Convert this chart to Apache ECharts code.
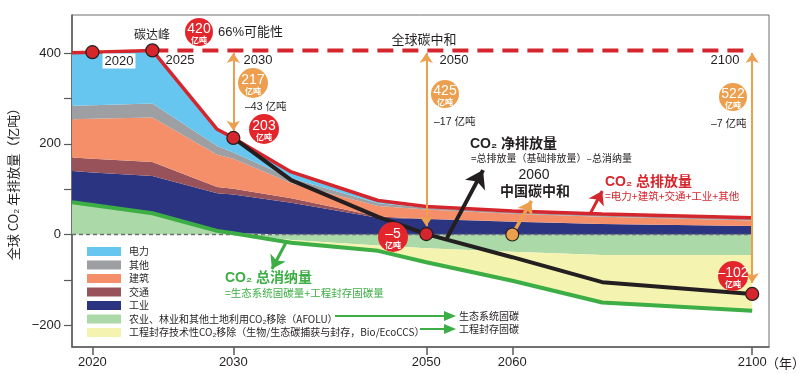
<!DOCTYPE html>
<html><head><meta charset="utf-8">
<script src="https://cdn.jsdelivr.net/npm/echarts@6/dist/echarts.min.js"></script>
<style>html,body{margin:0;padding:0;background:#fff}#c{width:806px;height:374px}</style>
</head><body><div id="c"></div>
<script>
// ---------------- data ----------------
const years       = [2018.3, 2020, 2025, 2029, 2030, 2036, 2045, 2050, 2060, 2075, 2100];
const industry    = [69, 72, 82, 83, 85, 70, 37, 34, 28, 23, 19];
const transport   = [30, 30, 31, 14, 13, 10, 3, 1, 0.5, 0, 0];
const building    = [84, 88, 98, 71, 66, 33, 23, 20, 17.5, 16, 12];
const other       = [30, 30, 31, 19, 14, 11, 6, 4, 3, 4, 4];
const electricity = [117, 117, 117, 37, 32, 14, 6, 3, 3, 2, 2];
const afolu       = [71, 65, 47, 8, 3, -12, -24, -30, -38, -45, -45];
const engineered  = [0, 0, 0, 0, 0, -6, -12, -31, -64, -105, -123];
const netStartYear = 2030;
const peakYear = 2025;
const totalMarkYears = [2020, 2025, 2030];
const netMarkYears = [2050, 2100];
const chinaNeutralYear = 2060;
const xTickYears = [2020, 2030, 2050, 2060, 2100];
const yTickValues = [-200, -100, 0, 100, 200, 300, 400];
const yLabelValues = [-200, 0, 200, 400];
const legendNames = ['电力', '其他', '建筑', '交通', '工业',
  '农业、林业和其他土地利用CO₂移除（AFOLU）',
  '工程封存技术性CO₂移除（生物/生态碳捕获与封存，Bio/EcoCCS）'];

// ------------- non-uniform time scale of the original figure -------------
const scaleYears = [2020, 2025, 2030, 2050, 2060, 2100];
const scaleUnits = [0, 60, 141, 334, 420, 660];
function seg(arrA, v) { let i = 0; while (i < arrA.length - 2 && v > arrA[i + 1]) i++; return i; }
function toU(yr) { const i = seg(scaleYears, yr); return scaleUnits[i] + (yr - scaleYears[i]) * (scaleUnits[i + 1] - scaleUnits[i]) / (scaleYears[i + 1] - scaleYears[i]); }
function fromU(u) { const i = seg(scaleUnits, u); return scaleYears[i] + (u - scaleUnits[i]) * (scaleYears[i + 1] - scaleYears[i]) / (scaleUnits[i + 1] - scaleUnits[i]); }

// ------------- derived (stacking) -------------
const zero = years.map(() => 0);
const posBase = afolu.map(v => Math.max(v, 0));
const negBase = afolu.map(v => Math.min(v, 0));
function addArr(a, b) { return a.map((v, i) => v + b[i]); }
const topIndustry = addArr(posBase, industry);
const topTransport = addArr(topIndustry, transport);
const topBuilding = addArr(topTransport, building);
const topOther = addArr(topBuilding, other);
const total = addArr(topOther, electricity);
const engBottom = addArr(negBase, engineered);
const sink = addArr(afolu, engineered);
const net = years.map((y, i) => y >= netStartYear ? total[i] - posBase[i] + sink[i] : null);
const idx = y => years.indexOf(y);

const RED = '#d6262d', GREEN = '#3dae45', ORANGE = '#eca04f', BLACK = '#231f20';
const FONT = '"Liberation Sans", "Noto Sans CJK SC", sans-serif';
const CJK = '"Noto Sans CJK SC", "Liberation Sans", sans-serif';
const colors = {
  '电力': '#67c6ef', '其他': '#9e9fa2', '建筑': '#f48f6a', '交通': '#98525a', '工业': '#2a3481',
  [legendNames[5]]: '#abd9a7', [legendNames[6]]: '#f5f3b0'
};

function band(name, upper, lower) {
  return {
    name, type: 'custom', silent: true, z: 1, itemStyle: { color: colors[name] },
    data: years.map((y, i) => [toU(y), upper[i], lower[i]]),
    encode: { x: 0, y: [1, 2] },
    renderItem: (params, api) => {
      if (params.dataIndex !== 0) return null;
      const top = years.map((y, i) => api.coord([toU(y), upper[i]]));
      const bot = years.map((y, i) => api.coord([toU(y), lower[i]])).reverse();
      return { type: 'polygon', shape: { points: top.concat(bot) }, style: { fill: colors[name], stroke: null } };
    }
  };
}
const pts = (arr) => years.map((y, i) => arr[i] === null ? null : [toU(y), arr[i]]).filter(p => p);

// annotation arrows in data space (year, value)
const vArrows = [[2030, 400, 229], [2050, 400, 18], [2100, 400, -107]];
const diagArrows = [
  { from: [2052.4, -8], to: [2056.6, 142], color: BLACK, width: 4, size: 17 },
  { from: [2060, 0], to: [2063.2, 74], color: ORANGE, width: 3.5, size: 13 },
  { from: [2073, 46], to: [2075, 96], color: RED, width: 3, size: 13 },
  { from: [2035.5, -16], to: [2034, -76], color: GREEN, width: 3, size: 13 }
];

function bubble(x, y, r, color, num) {
  return { type: 'group', x, y, z: 20, children: [
    { type: 'circle', z: 20, shape: { cx: 0, cy: 0, r }, style: { fill: color } },
    { type: 'text', z: 21, x: 0, y: -3, style: { text: num, fill: '#fff', font: '14px ' + FONT, align: 'center', verticalAlign: 'middle' } },
    { type: 'text', z: 21, x: 0, y: 8, style: { text: '亿吨', fill: '#fff', font: 'bold 8px ' + CJK, align: 'center', verticalAlign: 'middle' } }
  ]};
}
function txt(x, y, text, font, fill, align, extra) {
  return { type: 'text', x, y, z: 20, style: Object.assign({ text, font, fill: fill || BLACK, align: align || 'left', verticalAlign: 'middle' }, extra || {}) };
}
function legArrow(x1, x2, y) {
  return [
    { type: 'line', z: 20, shape: { x1, y1: y, x2: x2 - 8, y2: y }, style: { stroke: GREEN, lineWidth: 2 } },
    { type: 'polygon', z: 20, shape: { points: [[x2 - 12, y - 5], [x2, y], [x2 - 12, y + 5]] }, style: { fill: GREEN } }
  ];
}

const option = {
  animation: false,
  backgroundColor: '#fff',
  grid: { left: 72, right: 37, top: 15, bottom: 27, show: true, borderColor: '#6d6e71', borderWidth: 1, outerBoundsMode: 'none' },
  xAxis: {
    type: 'value', min: toU(2018.3), max: toU(2102.8),
    splitLine: { show: false },
    axisLine: { onZero: false, lineStyle: { color: '#58595b', width: 1.5 } },
    axisTick: { show: true, length: 8, inside: false, customValues: xTickYears.map(toU), lineStyle: { color: '#58595b', width: 1.5 } },
    axisLabel: { customValues: xTickYears.map(toU), formatter: v => String(Math.round(fromU(v))), fontSize: 13, color: BLACK, fontFamily: FONT, margin: 9 }
  },
  yAxis: {
    type: 'value', min: -248, max: 484,
    name: '全球 CO₂ 年排放量（亿吨）', nameLocation: 'middle', nameRotate: 90, nameGap: 52,
    nameTextStyle: { fontSize: 13, color: BLACK, fontFamily: CJK },
    splitLine: { show: false },
    axisLine: { show: true, onZero: false, lineStyle: { color: '#58595b', width: 1.5 } },
    axisTick: { show: true, length: 8, customValues: yTickValues, lineStyle: { color: '#58595b', width: 1.2 } },
    axisLabel: { customValues: yLabelValues, formatter: v => v < 0 ? '−' + Math.abs(v) : String(v), fontSize: 13, color: BLACK, fontFamily: FONT, margin: 11 }
  },
  legend: {
    left: 82, top: 241, orient: 'vertical', itemWidth: 34, itemHeight: 9, itemGap: 2.5,
    icon: 'rect', selectedMode: false,
    textStyle: { fontSize: 10, color: BLACK, fontFamily: CJK, lineHeight: 11, padding: [0, 0, 0, 3] },
    itemStyle: { borderWidth: 0 },
    data: legendNames.map(n => ({ name: n, icon: 'rect', itemStyle: { color: colors[n], borderWidth: 0 } }))
  },
  series: [
    band(legendNames[5], afolu, zero),
    band('工业', topIndustry, posBase),
    band('交通', topTransport, topIndustry),
    band('建筑', topBuilding, topTransport),
    band('其他', topOther, topBuilding),
    band('电力', total, topOther),
    band(legendNames[6], negBase, engBottom),
    { type: 'line', silent: true, symbol: 'none', z: 3, data: [[toU(2018.3), 0], [toU(2100), 0]],
      lineStyle: { color: '#6d6e71', width: 1.3, type: [4, 3] } },
    { type: 'line', silent: true, symbol: 'none', z: 4, data: [[toU(peakYear), total[idx(peakYear)]], [toU(2100), total[idx(peakYear)]]],
      lineStyle: { color: RED, width: 4, type: [16, 9] } },
    { type: 'line', silent: true, symbol: 'none', z: 4, data: pts(total), lineStyle: { color: RED, width: 3.5 } },
    { type: 'line', silent: true, symbol: 'none', z: 4, data: pts(sink), lineStyle: { color: GREEN, width: 4 } },
    { type: 'line', silent: true, symbol: 'none', z: 5, data: pts(net), lineStyle: { color: BLACK, width: 4 } },
    { type: 'scatter', silent: true, z: 8, symbolSize: 13,
      data: totalMarkYears.map(y => [toU(y), total[idx(y)]]).concat(netMarkYears.map(y => [toU(y), net[idx(y)]])),
      itemStyle: { color: RED, borderColor: BLACK, borderWidth: 1.2, opacity: 1 } },
    { type: 'scatter', silent: true, z: 8, symbolSize: 13, data: [[toU(chinaNeutralYear), 0]],
      itemStyle: { color: ORANGE, borderColor: BLACK, borderWidth: 1.2, opacity: 1 } },
    { type: 'scatter', silent: true, z: 7, data: [],
      markLine: { silent: true, animation: false, label: { show: false }, symbol: ['arrow', 'arrow'], symbolSize: 10,
        lineStyle: { color: ORANGE, width: 2, type: 'solid' },
        data: vArrows.map(a => [{ coord: [toU(a[0]), a[1]] }, { coord: [toU(a[0]), a[2]] }]) } },
    { type: 'scatter', silent: true, z: 7, data: [],
      markLine: { silent: true, animation: false, label: { show: false }, symbol: ['none', 'arrow'],
        data: diagArrows.map(a => [
          { coord: [toU(a.from[0]), a.from[1]], symbol: 'none', lineStyle: { color: a.color, width: a.width, type: 'solid' } },
          { coord: [toU(a.to[0]), a.to[1]], symbol: 'arrow', symbolSize: a.size }
        ]) } }
  ],
  graphic: [
    bubble(199, 32, 14, '#e3262c', '420'),
    txt(218, 32, '66%可能性', '13px ' + FONT),
    txt(152, 34, '碳达峰', '12px ' + CJK, BLACK, 'center'),
    txt(424, 39, '全球碳中和', '13px ' + CJK, BLACK, 'center'),
    txt(119, 61, '2020', '13px ' + FONT, BLACK, 'center', { backgroundColor: '#fff', padding: [1, 2] }),
    txt(180, 60, '2025', '13px ' + FONT, BLACK, 'center'),
    txt(258, 60, '2030', '13px ' + FONT, BLACK, 'center'),
    txt(454, 60, '2050', '13px ' + FONT, BLACK, 'center'),
    txt(725, 60, '2100', '13px ' + FONT, BLACK, 'center'),
    bubble(253, 83, 15, ORANGE, '217'),
    txt(245, 107, '–43 亿吨', '10.5px ' + FONT),
    bubble(445, 94, 14, ORANGE, '425'),
    txt(434, 122, '–17 亿吨', '10.5px ' + FONT),
    bubble(733, 97, 14, ORANGE, '522'),
    txt(711, 124, '–7 亿吨', '10.5px ' + FONT),
    bubble(264, 129, 15, '#e3262c', '203'),
    bubble(393, 237, 15, '#e3262c', '–5'),
    bubble(733, 276, 15, '#e3262c', '–102'),
    txt(470, 144, 'CO₂ 净排放量', 'bold 14px ' + FONT),
    txt(471, 158, '=总排放量（基础排放量）–总消纳量', '10px ' + CJK),
    txt(534, 175, '2060', '14px ' + FONT, BLACK, 'center'),
    txt(535, 191, '中国碳中和', 'bold 14px ' + CJK, BLACK, 'center'),
    txt(605, 182, 'CO₂ 总排放量', 'bold 14px ' + FONT, RED),
    txt(605, 196, '=电力+建筑+交通+工业+其他', '10.5px ' + CJK, RED),
    txt(225, 278, 'CO₂ 总消纳量', 'bold 14px ' + FONT, GREEN),
    txt(225, 293, '=生态系统固碳量+工程封存固碳量', '10.5px ' + CJK, GREEN),
    ...legArrow(335, 456, 316),
    ...legArrow(420, 456, 329),
    txt(459, 316, '生态系统固碳', '10px ' + CJK),
    txt(459, 329, '工程封存固碳', '10px ' + CJK),
    txt(766, 363, '（年）', '13px ' + CJK)
  ]
};
const chart = echarts.init(document.getElementById('c'));
chart.setOption(option);
</script>
</body></html>
